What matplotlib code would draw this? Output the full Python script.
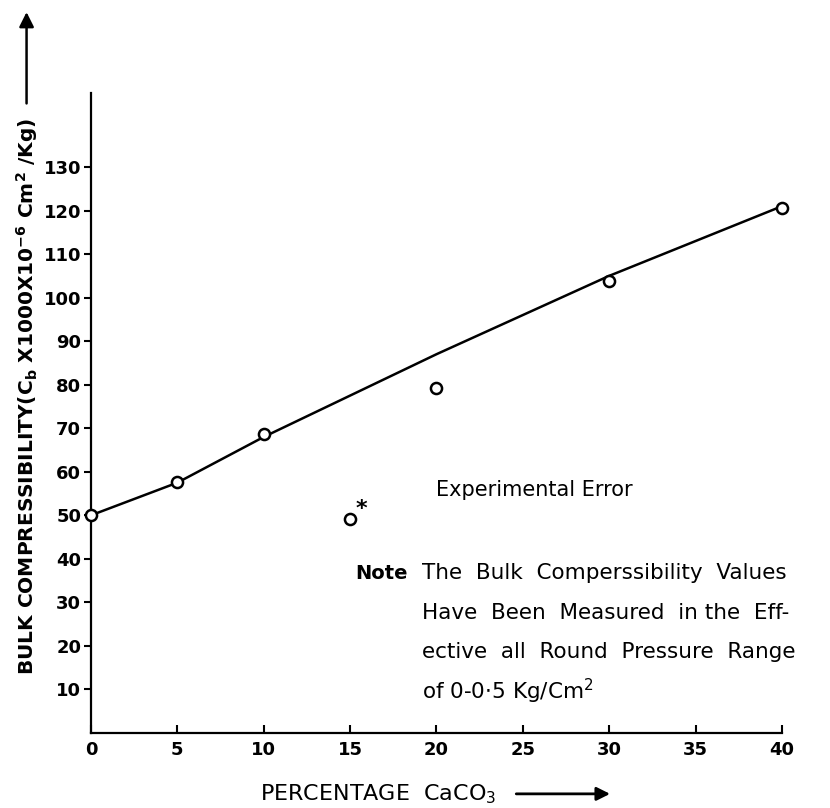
import numpy as np
import matplotlib.pyplot as plt

# percentage CaCO3 vs bulk compressibility
pct = [0, 5, 10, 15, 20, 30, 40]
comp = [50, 57.7, 68.7, 49.2, 79.3, 103.9, 120.5]

# hand-drawn fit line (15 % point left out as experimental error)
fit_pct = [0, 5, 10, 20, 30, 40]
fit_comp = [50, 57.5, 68, 87, 105, 121]

x_ticks = [0, 5, 10, 15, 20, 25, 30, 35, 40]
y_ticks = [10, 20, 30, 40, 50, 60, 70, 80, 90, 100, 110, 120, 130]

note_lines = [
    "The  Bulk  Comperssibility  Values",
    "Have  Been  Measured  in the  Eff-",
    "ective  all  Round  Pressure  Range",
    "of 0-0$\\cdot$5 Kg/Cm$^2$",
]

fig = plt.figure(figsize=(8.3, 8.08), dpi=100)
ax = fig.add_axes([0.1096, 0.0928, 0.8325, 0.7921])

ax.plot(fit_pct, fit_comp, color="black", linewidth=1.8, zorder=2)
ax.plot(pct, comp, linestyle="none", marker="o", markersize=8,
        markerfacecolor="white", markeredgecolor="black",
        markeredgewidth=1.8, zorder=3, clip_on=False)

# asterisk on the outlier
ax.annotate("*", xy=(pct[3], comp[3]), xytext=(4, 0),
            textcoords="offset points", fontsize=16, fontweight="bold",
            ha="left", va="bottom")

ax.set_xlim(0, 40)
ax.set_ylim(0, 147)
ax.set_xticks(x_ticks)
ax.set_yticks(y_ticks)
ax.tick_params(axis="x", direction="in", length=6, width=1.5,
               labelsize=13, pad=6)
ax.tick_params(axis="y", direction="out", length=5, width=1.5,
               labelsize=13, pad=2)
for lab in ax.get_yticklabels() + ax.get_xticklabels():
    lab.set_fontweight("bold")
for side in ("top", "right"):
    ax.spines[side].set_visible(False)
for side in ("left", "bottom"):
    ax.spines[side].set_linewidth(1.6)

ax.text(0.5, 0.38, "Experimental Error", transform=ax.transAxes,
        fontsize=15, ha="left", va="center")
ax.text(0.382, 0.25, "Note", transform=ax.transAxes, fontsize=14,
        fontweight="bold", ha="left", va="center")
for i, line in enumerate(note_lines):
    ax.text(0.479, 0.25 - i * 0.0617, line, transform=ax.transAxes,
            fontsize=15.5, ha="left", va="center")

# rotated y label with its long arrow
fig.text(0.032, 0.509,
         "BULK COMPRESSIBILITY(C$_\\mathbf{b}$ X1000X10$^{\\mathbf{-6}}$"
         " Cm$^\\mathbf{2}$ /Kg)",
         rotation=90, fontsize=14.5, fontweight="bold",
         ha="center", va="center")
ax.annotate("", xy=(0.032, 0.985), xytext=(0.032, 0.872),
            xycoords="figure fraction", textcoords="figure fraction",
            arrowprops=dict(arrowstyle="-|>", color="black", lw=1.8,
                            mutation_scale=22, shrinkA=0, shrinkB=0))

# x label with arrow
fig.text(0.313, 0.017, "PERCENTAGE  CaCO$_3$", fontsize=16,
         ha="left", va="center")
ax.annotate("", xy=(0.735, 0.0175), xytext=(0.622, 0.0175),
            xycoords="figure fraction", textcoords="figure fraction",
            arrowprops=dict(arrowstyle="-|>", color="black", lw=2,
                            mutation_scale=20, shrinkA=0, shrinkB=0))

fig.savefig("out.png", dpi=100)
